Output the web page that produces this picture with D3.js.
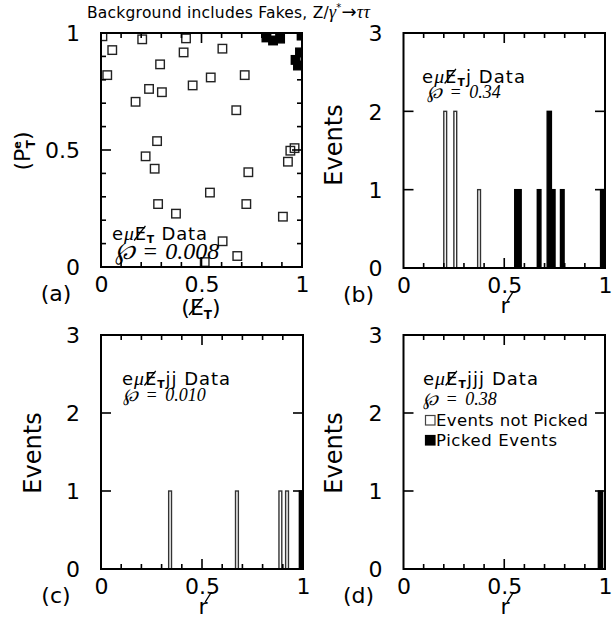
<!DOCTYPE html>
<html><head><meta charset="utf-8">
<script src="https://cdn.jsdelivr.net/npm/d3@7"></script>
<style>
body{margin:0;background:#fff;}
svg{display:block;}
text{font-family:"DejaVu Sans",sans-serif;fill:#000;}
.it{font-family:"Liberation Serif","Times New Roman",serif;font-style:italic;}
</style></head><body>
<svg id="fig" width="616" height="619"></svg>
<script>
// ---------- data ----------
// (a) scatter: events not picked (open) and picked events (filled)
const openX = [0.007,0.205,0.423,0.056,0.411,0.604,0.294,0.031,0.546,0.715,0.239,0.303,0.456,0.172,0.673,0.279,0.222,0.267,0.733,0.942,0.963,0.930,0.542,0.284,0.723,0.373,0.905,0.605,0.678,0.516];
const openY = [0.986,0.973,0.977,0.927,0.917,0.933,0.866,0.820,0.810,0.820,0.761,0.747,0.776,0.706,0.670,0.538,0.473,0.420,0.405,0.497,0.508,0.450,0.318,0.269,0.269,0.228,0.215,0.110,0.047,0.021];
const pickedX = [0.823,0.856,0.891,0.998,0.990,0.968,0.980];
const pickedY = [0.981,0.968,0.976,0.989,0.917,0.885,0.861];

// (b) e mu MET j : histogram bins [lo, hi] and counts
const bOpenLo = [0.200,0.250,0.368], bOpenHi = [0.214,0.264,0.382], bOpenN = [2,2,1];
const bPickLo = [0.552,0.664,0.713,0.734,0.779,0.978], bPickHi = [0.584,0.682,0.734,0.752,0.797,1.000], bPickN = [1,1,2,1,1,1];
// (c) e mu MET jj
const cOpenLo = [0.335,0.666,0.881,0.914], cOpenHi = [0.349,0.680,0.895,0.928], cOpenN = [1,1,1,1];
const cPickLo = [0.982], cPickHi = [1.000], cPickN = [1];
// (d) e mu MET jjj
const dOpenLo = [], dOpenHi = [], dOpenN = [];
const dPickLo = [0.967], dPickHi = [0.988], dPickN = [1];

const panelTags = ["(a)","(b)","(c)","(d)"];
const jetTags = ["","j","jj","jjj"];
const pValues = ["0.008","0.34","0.010","0.38"];
const legendLabels = ["Events not Picked","Picked Events"];
const titleMain = "Background includes Fakes, Z/";

// ---------- layout ----------
const svg = d3.select("#fig");
const frames = [
  {x0:101,  x1:302, yb:267, yt:33,  ymax:1},
  {x0:403.5,x1:605, yb:268, yt:33,  ymax:3},
  {x0:101,  x1:303, yb:569, yt:335, ymax:3},
  {x0:403.5,x1:605, yb:569, yt:335, ymax:3}
];
const scales = frames.map(f => ({
  x: d3.scaleLinear().domain([0,1]).range([f.x0,f.x1]),
  y: d3.scaleLinear().domain([0,f.ymax]).range([f.yb,f.yt])
}));
const tenth = d3.range(1,10).map(k => k/10);
const tickLen = v => (Math.abs(v - 0.5) < 1e-9 || v >= 1) ? 10 : 5;
const TW = 1.6; // tick thickness

// inward tick marks on all four sides, drawn as thin filled bars
function tickMarks(f, s, xVals, yVals) {
  const g = svg.append("g").attr("fill","#000");
  g.append("g").selectAll("rect").data(xVals).join("rect")
    .attr("x", v => s.x(v) - TW/2).attr("width", TW).attr("y", v => f.yb - tickLen(v)).attr("height", v => tickLen(v));
  g.append("g").selectAll("rect").data(xVals).join("rect")
    .attr("x", v => s.x(v) - TW/2).attr("width", TW).attr("y", f.yt).attr("height", v => tickLen(v));
  g.append("g").selectAll("rect").data(yVals).join("rect")
    .attr("x", f.x0).attr("width", v => tickLen(v)).attr("y", v => s.y(v) - TW/2).attr("height", TW);
  g.append("g").selectAll("rect").data(yVals).join("rect")
    .attr("x", v => f.x1 - tickLen(v)).attr("width", v => tickLen(v)).attr("y", v => s.y(v) - TW/2).attr("height", TW);
}

function drawLabels(i) {
  const f = frames[i], s = scales[i];
  const fmt = d3.format("~g");
  const xl = svg.append("g").attr("transform",`translate(0,${f.yb})`)
    .call(d3.axisBottom(s.x).tickValues([0,0.5,1]).tickSize(0).tickFormat(fmt));
  xl.select(".domain").remove();
  xl.selectAll("line").remove();
  xl.selectAll("text").attr("y",25).attr("dy",0).attr("font-size",22)
    .attr("font-family","DejaVu Sans").attr("fill","#000");
  const yVals = f.ymax === 1 ? [0,0.5,1] : [0,1,2,3];
  const yl = svg.append("g").attr("transform",`translate(${f.x0},0)`)
    .call(d3.axisLeft(s.y).tickValues(yVals).tickSize(0).tickFormat(fmt));
  yl.select(".domain").remove();
  yl.selectAll("line").remove();
  yl.selectAll("text").attr("x",-21).attr("dy","0.36em").attr("font-size",22)
    .attr("font-family","DejaVu Sans").attr("fill","#000");

  svg.append("text").attr("x",f.x0-45).attr("y",f.yb+34).attr("text-anchor","middle")
    .attr("font-size",22).text(panelTags[i]);
}
// frame box and ticks, drawn over the marks
function drawBox(i) {
  const f = frames[i], s = scales[i];
  tickMarks(f, s, tenth, f.ymax === 1 ? tenth : [1,2]);
  svg.append("rect").attr("x",f.x0).attr("y",f.yt).attr("width",f.x1-f.x0).attr("height",f.yb-f.yt)
    .attr("fill","none").attr("stroke","#000").attr("stroke-width",2);
}

// e mu MET(+jets) Data label with a slashed E
function channelLabel(x0, y0, jets, fs, w) {
  const t = svg.append("text").attr("x",x0).attr("y",y0).attr("font-size",fs)
    .attr("textLength",w).attr("lengthAdjust","spacing");
  t.append("tspan").text("e");
  t.append("tspan").attr("class","it").attr("font-size",fs*1.1).text("μ");
  t.append("tspan").text("E");
  t.append("tspan").attr("font-size",fs*0.6).attr("font-weight","bold").attr("dy",fs*0.15).text("T");
  t.append("tspan").attr("dy",-fs*0.15).text(jets + " Data");
  const e = t.node().getExtentOfChar(2);
  svg.append("line").attr("x1",e.x-0.5).attr("y1",y0+0.5)
    .attr("x2",e.x+e.width*0.95).attr("y2",y0-fs*0.78)
    .attr("stroke","#000").attr("stroke-width",1.3);
}
function pLabel(x0, y0, val, fs, ws) {
  svg.append("text").attr("class","it").attr("x",x0).attr("y",y0).attr("font-size",fs)
    .attr("word-spacing",ws).attr("fill","#3a3a3a").text("℘ = " + val);
}
function eventsLabel(cx, cy) {
  svg.append("text").attr("transform",`translate(${cx},${cy}) rotate(-90)`)
    .attr("text-anchor","middle").attr("dominant-baseline","central").attr("font-size",24).text("Events");
}
function rPrimeLabel(cx, by) {
  const t = svg.append("text").attr("x",cx).attr("y",by).attr("font-size",22).attr("text-anchor","middle").text("r");
  const e = t.node().getExtentOfChar(0);
  svg.append("line").attr("x1",e.x+e.width*0.75).attr("y1",by-12)
    .attr("x2",e.x+e.width+4).attr("y2",by-22).attr("stroke","#000").attr("stroke-width",1.4);
}
function histBars(i, lo, hi, n, filled) {
  const s = scales[i];
  svg.append("g").selectAll("rect").data(d3.range(lo.length)).join("rect")
    .attr("x", k => s.x(lo[k])).attr("width", k => s.x(hi[k]) - s.x(lo[k]))
    .attr("y", k => s.y(n[k])).attr("height", k => s.y(0) - s.y(n[k]))
    .attr("fill", filled ? "#000" : "none")
    .attr("stroke", filled ? "#000" : "#333").attr("stroke-width",1.4);
}

// ---------- title ----------
const title = svg.append("text").attr("x",87).attr("y",18).attr("font-size",15.5)
  .attr("textLength",283).attr("lengthAdjust","spacing");
title.append("tspan").text(titleMain);
title.append("tspan").attr("class","it").attr("font-size",18).text("γ");
title.append("tspan").attr("font-size",10).attr("dy",-7).text("*");
title.append("tspan").attr("dy",7).attr("font-size",18).text("→");
title.append("tspan").attr("class","it").attr("font-size",18).text("ττ");

// ---------- (a) scatter ----------
drawLabels(0);
{
  const s = scales[0], f = frames[0];
  svg.append("defs").append("clipPath").attr("id","clipA").append("rect")
    .attr("x",f.x0).attr("y",f.yt).attr("width",f.x1-f.x0).attr("height",f.yb-f.yt);
  const g = svg.append("g").attr("clip-path","url(#clipA)");
  const sz = 8.5;
  g.selectAll("rect.o").data(d3.range(openX.length)).join("rect").attr("class","o")
    .attr("x",k => s.x(openX[k]) - sz/2).attr("y",k => s.y(openY[k]) - sz/2)
    .attr("width",sz).attr("height",sz).attr("fill","none").attr("stroke","#222").attr("stroke-width",1.4);
  g.selectAll("rect.p").data(d3.range(pickedX.length)).join("rect").attr("class","p")
    .attr("x",k => s.x(pickedX[k]) - sz/2).attr("y",k => s.y(pickedY[k]) - sz/2)
    .attr("width",sz).attr("height",sz).attr("fill","#000").attr("stroke","#000").attr("stroke-width",1.4);
  channelLabel(112, 240, jetTags[0], 18, 95);
  pLabel(115, 259, pValues[0], 24, 1);

  // axis titles
  const yt = svg.append("text").attr("transform","translate(30,151) rotate(-90)")
    .attr("text-anchor","middle").attr("font-size",22);
  yt.append("tspan").text("(P");
  yt.append("tspan").attr("font-size",11).attr("font-weight","bold").attr("dy",-9).text("e");
  yt.append("tspan").attr("font-size",12).attr("font-weight","bold").attr("dx",-7).attr("dy",14).text("T");
  yt.append("tspan").attr("dy",-5).text(")");

  const xt = svg.append("text").attr("x",201).attr("y",315).attr("text-anchor","middle").attr("font-size",22);
  xt.append("tspan").text("(");
  xt.append("tspan").text("E");
  xt.append("tspan").attr("font-size",12).attr("font-weight","bold").attr("dy",4).text("T");
  xt.append("tspan").attr("dy",-4).text(")");
  const e = xt.node().getExtentOfChar(1);
  svg.append("line").attr("x1",e.x-1).attr("y1",315).attr("x2",e.x+e.width*0.95).attr("y2",315-17)
    .attr("stroke","#000").attr("stroke-width",1.4);
}

// ---------- (b) ----------
drawLabels(1);
histBars(1, bOpenLo, bOpenHi, bOpenN, false);
histBars(1, bPickLo, bPickHi, bPickN, true);
channelLabel(422, 83, jetTags[1], 18, 103);
pLabel(427, 98, pValues[1], 18, 3);
eventsLabel(334, 145);
rPrimeLabel(505, 313);

// ---------- (c) ----------
drawLabels(2);
histBars(2, cOpenLo, cOpenHi, cOpenN, false);
histBars(2, cPickLo, cPickHi, cPickN, true);
channelLabel(122, 385, jetTags[2], 18, 108);
pLabel(123, 401, pValues[2], 18, 3);
eventsLabel(33, 453);
rPrimeLabel(203, 614);

// ---------- (d) ----------
drawLabels(3);
histBars(3, dOpenLo, dOpenHi, dOpenN, false);
histBars(3, dPickLo, dPickHi, dPickN, true);
channelLabel(423, 385, jetTags[3], 18, 115);
pLabel(423, 405, pValues[3], 18, 3);
eventsLabel(334, 453);
rPrimeLabel(505, 614);

// legend
legendLabels.forEach((lab, k) => {
  svg.append("rect").attr("x",425.5).attr("y",415.5 + 20*k).attr("width",9.5).attr("height",9.5)
    .attr("fill", k === 0 ? "none" : "#000").attr("stroke", k === 0 ? "#444" : "#000").attr("stroke-width",1.2);
  svg.append("text").attr("x",436).attr("y",426 + 20*k).attr("font-size",16.5)
    .attr("textLength", k === 0 ? 152 : 121).attr("lengthAdjust","spacing").text(lab);
});

// boxes and ticks on top
[0,1,2,3].forEach(drawBox);
</script>
</body></html>
